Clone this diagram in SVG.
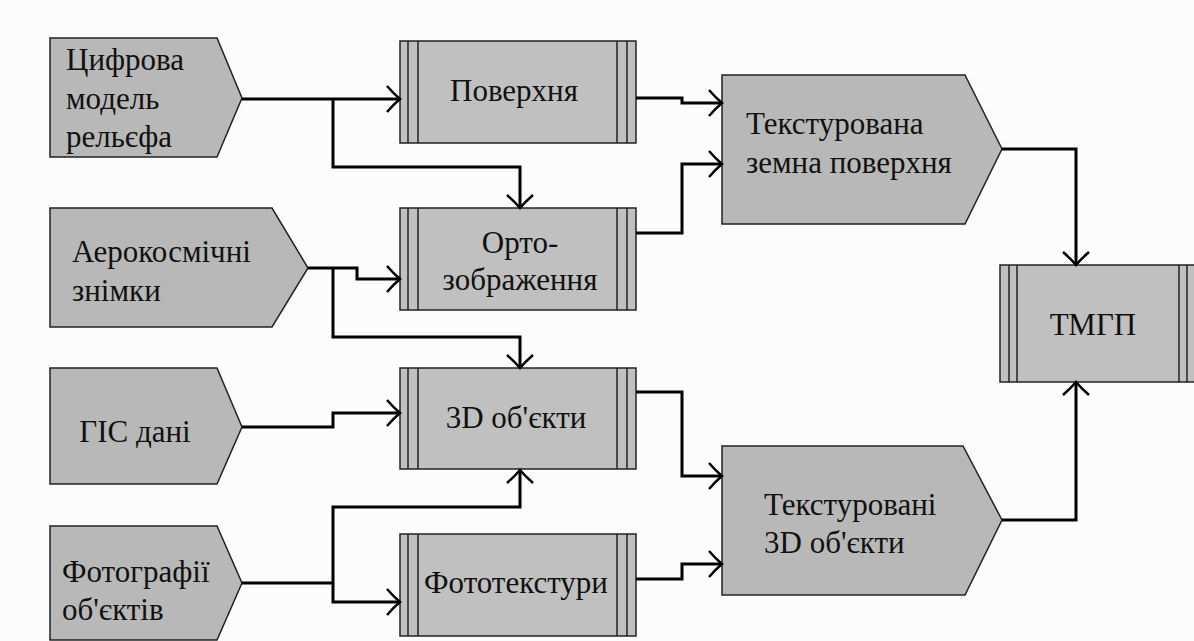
<svg xmlns="http://www.w3.org/2000/svg" width="1194" height="641" viewBox="0 0 1194 641">
<style>
.pent{fill:#b8b8b8;stroke:#222;stroke-width:1.5}
.box{fill:#c0c0c0;stroke:#222;stroke-width:1.5}
.bl{stroke:#222;stroke-width:1.5}
text{font-family:'Liberation Serif','Liberation Sans',sans-serif;font-size:31px;fill:#111}
.c{text-anchor:middle}
.con{fill:none;stroke:#000;stroke-width:3}
.arr{fill:none;stroke:#000;stroke-width:3;marker-end:url(#ah)}
</style>
<defs>
<marker id="ah" markerUnits="userSpaceOnUse" viewBox="-16 -16 20 32" refX="0" refY="0" markerWidth="20" markerHeight="32" orient="auto">
<path d="M-13,-13 Q-6,-5 0,0 Q-6,5 -13,13" fill="none" stroke="#000" stroke-width="2.5"/>
</marker>
</defs>
<rect x="0" y="0" width="1194" height="641" fill="#fcfcfc"/>
<g id="n-cyfrova">
<polygon class="pent" points="50,38 217,38 242,98 217,157 50,157"/>
<text x="66" y="70">Цифрова</text>
<text x="66" y="109">модель</text>
<text x="66" y="147">рельєфа</text>
</g>
<g id="n-aero">
<polygon class="pent" points="50,208 272,208 308,268 272,327 50,327"/>
<text x="72" y="262">Аерокосмічні</text>
<text x="72" y="301">знімки</text>
</g>
<g id="n-gis">
<polygon class="pent" points="50,368 217,368 242,427 217,484 50,484"/>
<text class="c" x="135" y="442">ГІС дані</text>
</g>
<g id="n-foto">
<polygon class="pent" points="50,526 217,526 242,583 217,640 50,640"/>
<text x="62" y="582">Фотографії</text>
<text x="62" y="620">об'єктів</text>
</g>
<g id="n-poverhnia">
<rect class="box" x="400" y="41" width="236" height="102"/>
<path class="bl" d="M408,41V143M418,41V143M617,41V143M627,41V143"/>
<text class="c" x="514" y="101">Поверхня</text>
</g>
<g id="n-orto">
<rect class="box" x="400" y="208" width="236" height="102"/>
<path class="bl" d="M408,208V310M418,208V310M617,208V310M627,208V310"/>
<text class="c" x="520" y="253">Орто-</text>
<text class="c" x="520" y="290">зображення</text>
</g>
<g id="n-3d">
<rect class="box" x="400" y="368" width="236" height="101"/>
<path class="bl" d="M408,368V469M418,368V469M617,368V469M627,368V469"/>
<text class="c" x="516" y="428">3D об'єкти</text>
</g>
<g id="n-fototex">
<rect class="box" x="400" y="534" width="236" height="102"/>
<path class="bl" d="M408,534V636M418,534V636M617,534V636M627,534V636"/>
<text class="c" x="516" y="593">Фототекстури</text>
</g>
<g id="n-tex-zemna">
<polygon class="pent" points="722,75 965,75 1002,149 965,224 722,224"/>
<text x="746" y="134">Текстурована</text>
<text x="746" y="173">земна поверхня</text>
</g>
<g id="n-tex-3d">
<polygon class="pent" points="722,446 963,446 1002,520 965,595 722,595"/>
<text x="764" y="515">Текстуровані</text>
<text x="764" y="553">3D об'єкти</text>
</g>
<g id="n-tmgp">
<rect class="box" x="1000" y="265" width="197" height="117"/>
<path class="bl" d="M1009,265V382M1017,265V382M1179,265V382M1187,265V382"/>
<text class="c" x="1093" y="335">ТМГП</text>
</g>
<g id="connectors">
<path class="arr" d="M242,99H400"/>
<path class="arr" d="M333,99V167H520V208"/>
<path class="arr" d="M308,268H357V279H400"/>
<path class="arr" d="M333,268V337H520V368"/>
<path class="arr" d="M242,427H333V413H400"/>
<path class="con" d="M242,583H333"/>
<path class="arr" d="M333,583V507H520V470"/>
<path class="arr" d="M333,583V602H400"/>
<path class="arr" d="M636,98H682V103H722"/>
<path class="arr" d="M636,233H682V164H722"/>
<path class="arr" d="M636,392H682V476H722"/>
<path class="arr" d="M636,579H682V564H722"/>
<path class="arr" d="M1002,149H1076V265"/>
<path class="arr" d="M1002,520H1076V382"/>
</g>
</svg>
